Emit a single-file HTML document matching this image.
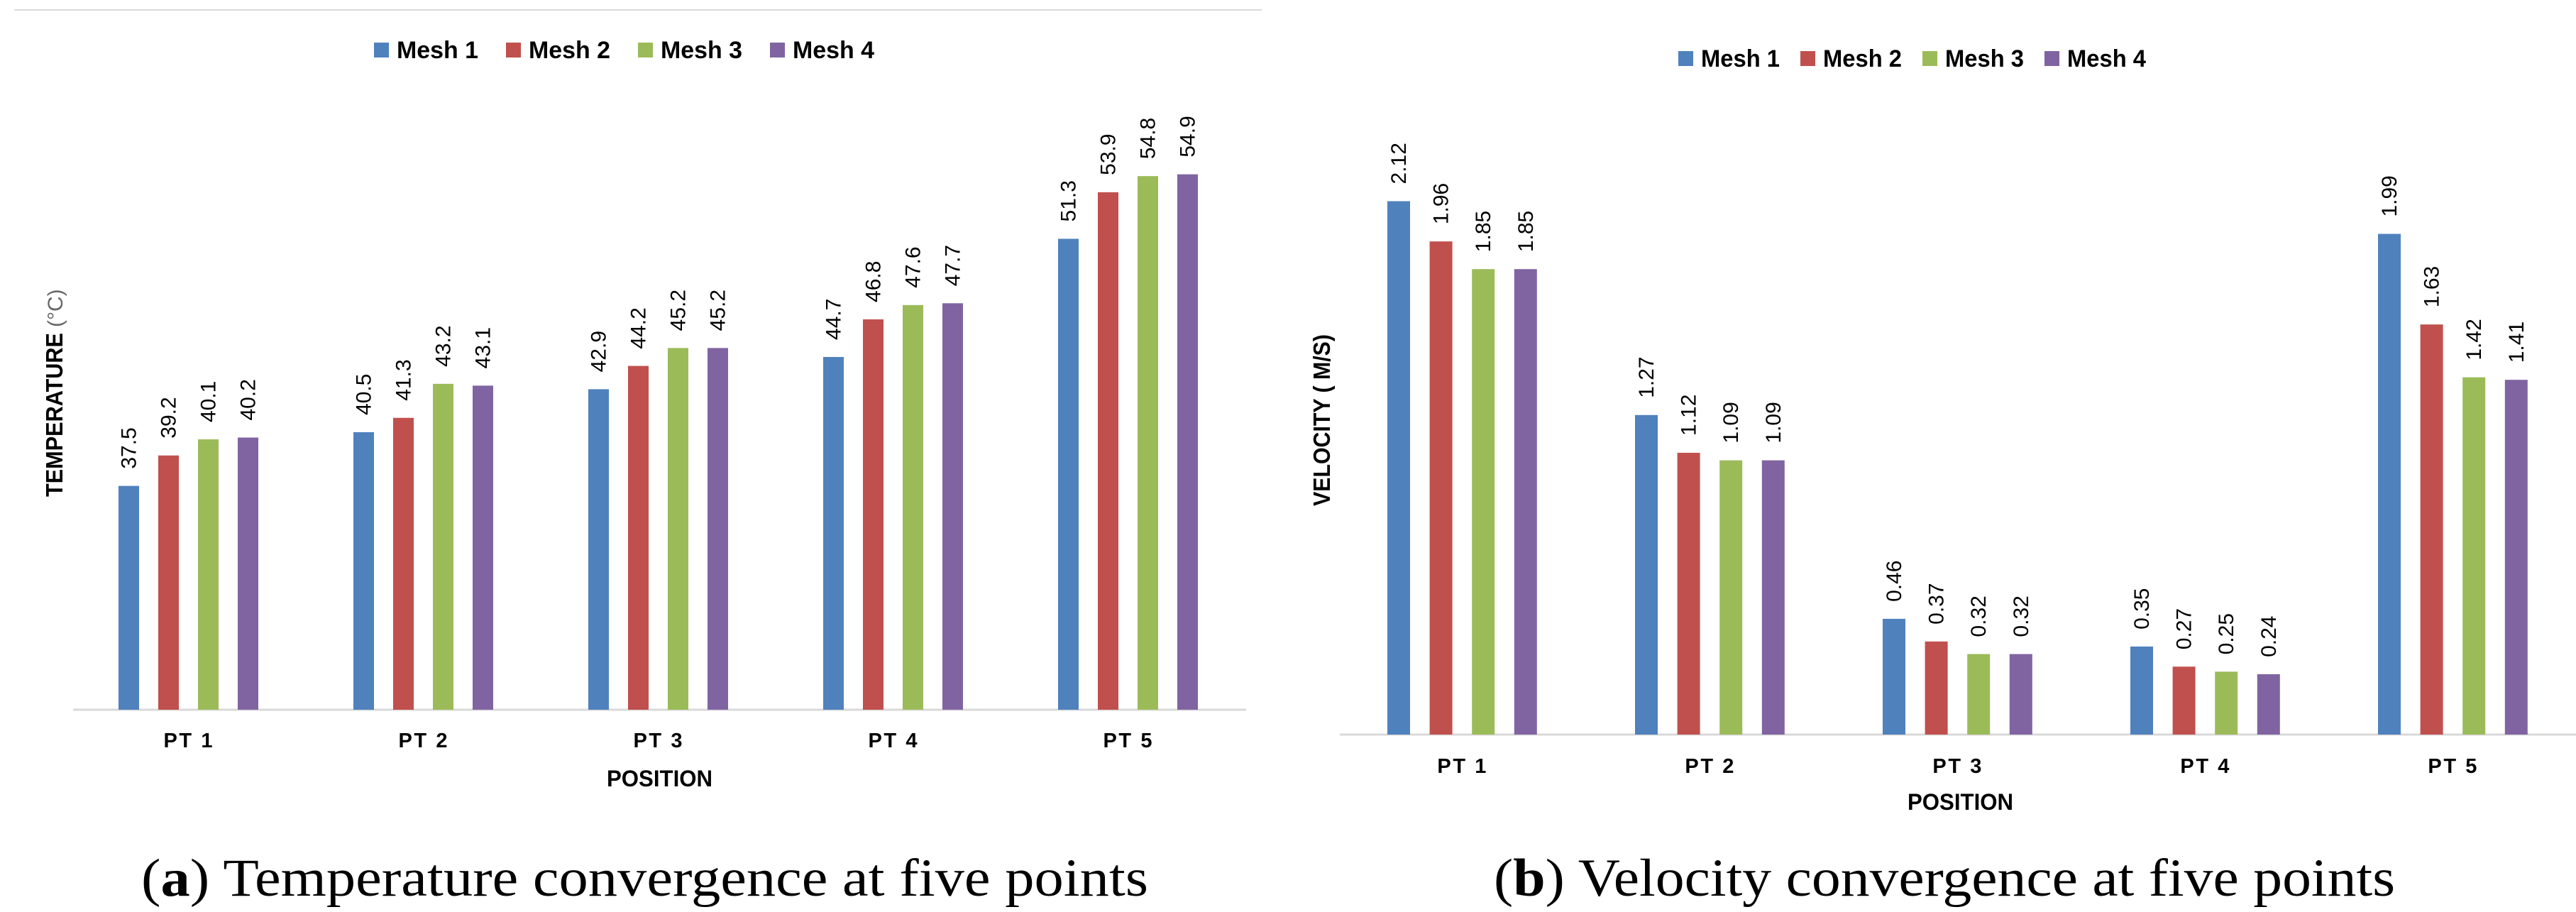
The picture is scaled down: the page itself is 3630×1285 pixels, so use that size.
<!DOCTYPE html>
<html><head><meta charset="utf-8"><style>
html,body{margin:0;padding:0;background:#fff;}
svg{display:block;}
</style></head><body>
<svg id="fig" width="3630" height="1285" viewBox="0 0 3630 1285" xmlns="http://www.w3.org/2000/svg">
<line x1="20" y1="14" x2="1778" y2="14" stroke="#d9d9d9" stroke-width="2"/>
<g id="chartA"></g>
<g id="chartB"></g>
<text x="199" y="1262" font-family="Liberation Serif, serif" font-size="75" textLength="1419" lengthAdjust="spacingAndGlyphs">(<tspan font-weight="bold">a</tspan>) Temperature convergence at five points</text>
<text x="2105" y="1262" font-family="Liberation Serif, serif" font-size="75" textLength="1270" lengthAdjust="spacingAndGlyphs">(<tspan font-weight="bold">b</tspan>) Velocity convergence at five points</text>
</svg>
<script>
const categories = ["PT 1","PT 2","PT 3","PT 4","PT 5"];
const seriesNames = ["Mesh 1","Mesh 2","Mesh 3","Mesh 4"];
const tempMesh1 = [37.5,40.5,42.9,44.7,51.3];
const tempMesh2 = [39.2,41.3,44.2,46.8,53.9];
const tempMesh3 = [40.1,43.2,45.2,47.6,54.8];
const tempMesh4 = [40.2,43.1,45.2,47.7,54.9];
const tempLabels = [["37.5","40.5","42.9","44.7","51.3"],["39.2","41.3","44.2","46.8","53.9"],["40.1","43.2","45.2","47.6","54.8"],["40.2","43.1","45.2","47.7","54.9"]];
const velMesh1 = [2.12,1.27,0.46,0.35,1.99];
const velMesh2 = [1.96,1.12,0.37,0.27,1.63];
const velMesh3 = [1.85,1.09,0.32,0.25,1.42];
const velMesh4 = [1.85,1.09,0.32,0.24,1.41];
const velLabels = [["2.12","1.27","0.46","0.35","1.99"],["1.96","1.12","0.37","0.27","1.63"],["1.85","1.09","0.32","0.25","1.42"],["1.85","1.09","0.32","0.24","1.41"]];
const colors = ["#4F81BD","#C0504D","#9BBB59","#8064A2"];
const NS="http://www.w3.org/2000/svg";
function mk(tag, attrs, parent){const e=document.createElementNS(NS,tag);for(const k in attrs)e.setAttribute(k,attrs[k]);parent.appendChild(e);return e;}

function draw(g, cfg){
  // axis line
  const ax = mk('line',{x1:cfg.axX1,y1:cfg.base,x2:cfg.axX2,y2:cfg.base,stroke:'#d9d9d9','stroke-width':3},g);
  
  
  const y = v => cfg.base - (v - cfg.vmin)*cfg.scale;
  cfg.series.forEach((vals, s) => {
    vals.forEach((v, i) => {
      const x = cfg.firstLeft + i*cfg.groupStep + s*cfg.barStep;
      const top = y(v);
      const r = mk('rect',{x:x,y:top,width:cfg.barW,height:cfg.base-top,fill:colors[s]},g);
      
      
      const cx = x + cfg.barW/2 + 10, ty = top - 24;
      const t = mk('text',{x:cx,y:ty,transform:`rotate(-90 ${cx} ${ty})`,'font-family':'Liberation Sans, sans-serif','font-size':30,fill:'#000'},g);
      t.textContent = cfg.labels[s][i];
      
      
    });
  });
  categories.forEach((c, i) => {
    const cx = cfg.firstLeft + i*cfg.groupStep + 1.5*cfg.barStep + cfg.barW/2;
    const t = mk('text',{x:cx-35,y:cfg.catY,'font-family':'Liberation Sans, sans-serif','font-weight':'bold','font-size':29,textLength:69,lengthAdjust:'spacing'},g);
    t.textContent = c;
    
    
  });
  const px = mk('text',{x:cfg.posX,y:cfg.posY,'font-family':'Liberation Sans, sans-serif','font-weight':'bold','font-size':32,textLength:149,lengthAdjust:'spacingAndGlyphs'},g);
  px.textContent='POSITION';
  
  
  // legend
  seriesNames.forEach((n, s) => {
    const lx = cfg.legX + s*cfg.legStep;
    const sq = mk('rect',{x:lx,y:cfg.legY,width:21,height:21,fill:colors[s]},g);
    
    
    const t = mk('text',{x:lx+32,y:cfg.legY+22,'font-family':'Liberation Sans, sans-serif','font-weight':'bold','font-size':34,textLength:cfg.legTL,lengthAdjust:'spacingAndGlyphs'},g);
    t.textContent=n;
    
    
  });
  // y title
  const yt = mk('text',{x:cfg.ytX,y:cfg.ytY,transform:`rotate(-90 ${cfg.ytX} ${cfg.ytY})`,'font-family':'Liberation Sans, sans-serif','font-weight':'bold','font-size':33},g);
  const a = mk('tspan',{textLength:cfg.ytTL,lengthAdjust:'spacingAndGlyphs'},yt); a.textContent=cfg.ytMain;
  if(cfg.ytUnit){const b=mk('tspan',{'font-weight':'normal',fill:'#666','font-size':30,dx:8},yt);b.textContent=cfg.ytUnit;}
  
  
}

draw(document.getElementById('chartA'),{
  series:[tempMesh1,tempMesh2,tempMesh3,tempMesh4], labels:tempLabels,
  base:1000, vmin:25, scale:25.23, axX1:103, axX2:1756,
  firstLeft:167, groupStep:331, barStep:56, barW:29,
  catY:1053, posX:855, posY:1108,
  legX:527, legY:60, legStep:186, legTL:115,
  ytX:88, ytY:700, ytMain:'TEMPERATURE', ytTL:231, ytUnit:'(°C)'
});
draw(document.getElementById('chartB'),{
  series:[velMesh1,velMesh2,velMesh3,velMesh4], labels:velLabels,
  base:1035, vmin:0, scale:354.5, axX1:1888, axX2:3630,
  firstLeft:1955, groupStep:349, barStep:59.6, barW:32,
  catY:1089, posX:2688, posY:1141,
  legX:2365, legY:72, legStep:172, legTL:111,
  ytX:1874, ytY:713, ytMain:'VELOCITY ( M/S)', ytTL:242, ytUnit:''
});
</script>
</body></html>
